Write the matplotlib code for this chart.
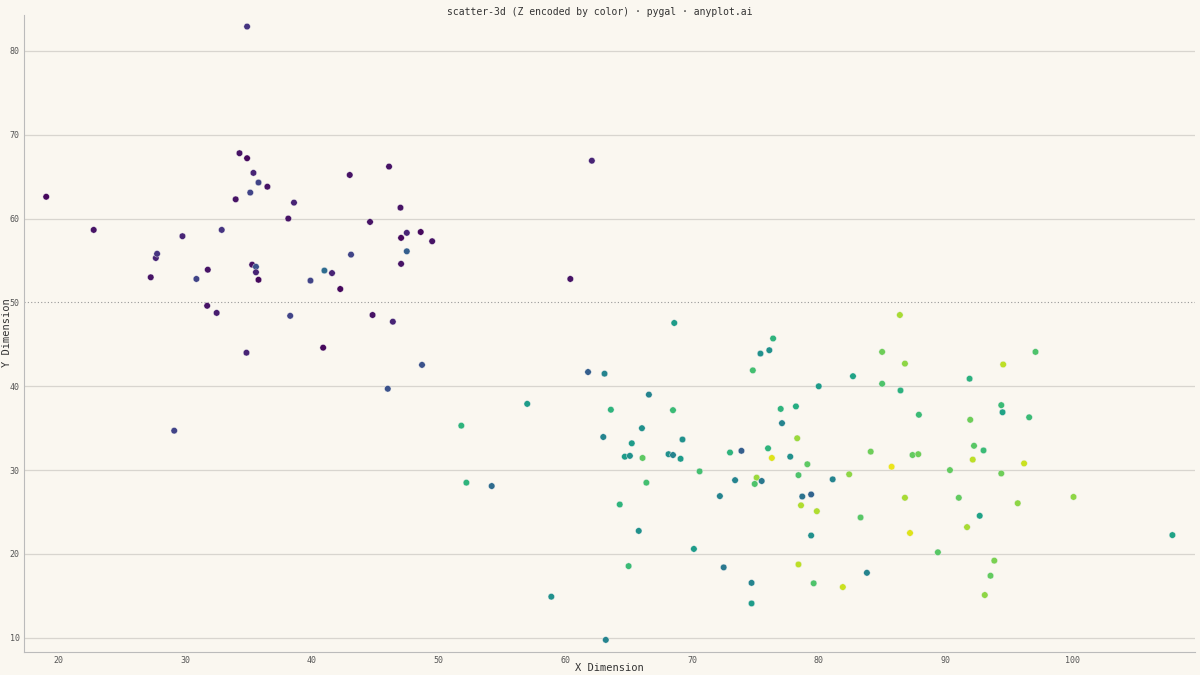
import matplotlib
matplotlib.use("Agg")
import matplotlib.pyplot as plt

x = [19.05,22.8,27.3,27.7,27.8,29.15,29.8,30.9,31.8,31.75,32.5,32.9,34.0,34.3,34.9,34.85,34.9,35.15,35.4,35.3,35.6,35.6,35.8,35.8,36.5,38.15,38.3,38.6,39.9,40.9,41.0,41.6,42.25,43.0,43.1,44.6,44.8,46.0,46.1,46.4,47.0,47.05,47.05,47.5,47.5,48.6,48.7,49.5,51.8,52.2,54.2,57.0,58.9,60.4,61.8,62.1,
     68.6,76.4,75.4,76.1,74.8,63.1,80.0,66.6,63.6,68.5,77.0,78.2,77.1,66.05,63.0,69.25,65.25,78.3,76.0,73.0,73.9,68.15,68.5,64.7,65.1,66.1,69.1,76.3,77.75,79.1,70.6,78.4,75.1,66.4,73.4,74.95,75.5,81.1,78.7,79.4,78.6,79.85,72.2,64.3,65.8,79.4,70.15,65.0,72.5,78.4,74.7,79.6,74.7,63.2,
     86.4,85.0,97.1,86.8,94.55,82.7,91.9,85.0,86.45,94.4,94.5,96.6,87.9,91.95,84.1,92.25,93.0,87.4,87.85,92.15,96.2,85.75,90.35,82.4,94.4,86.8,91.05,100.1,95.7,83.3,92.7,91.7,87.2,107.9,89.4,93.85,93.55,83.8,81.9,93.1]
y = [62.6,58.65,53.0,55.3,55.8,34.7,57.9,52.8,53.9,49.6,48.75,58.65,62.3,67.8,82.9,44.0,67.2,63.1,65.45,54.5,54.25,53.6,64.3,52.7,63.8,60.0,48.4,61.9,52.6,44.6,53.8,53.5,51.6,65.2,55.7,59.6,48.5,39.7,66.2,47.7,61.3,57.7,54.6,56.1,58.3,58.4,42.55,57.3,35.3,28.5,28.1,37.9,14.9,52.8,41.7,66.9,
     47.55,45.7,43.9,44.3,41.9,41.5,40.0,39.0,37.2,37.15,37.3,37.6,35.6,35.0,33.95,33.65,33.2,33.8,32.6,32.1,32.3,31.9,31.8,31.6,31.7,31.45,31.35,31.45,31.6,30.7,29.85,29.4,29.1,28.5,28.8,28.35,28.7,28.9,26.85,27.1,25.8,25.1,26.9,25.9,22.75,22.2,20.6,18.55,18.4,18.75,16.55,16.5,14.1,9.75,
     48.5,44.1,44.1,42.7,42.6,41.2,40.9,40.3,39.5,37.75,36.9,36.3,36.6,36.0,32.2,32.9,32.35,31.8,31.9,31.25,30.8,30.4,30.0,29.5,29.6,26.7,26.7,26.8,26.05,24.35,24.55,23.2,22.5,22.25,20.2,19.2,17.4,17.75,16.05,15.1]
z = [0.02,0.05,0.05,0.1,0.15,0.2,0.1,0.2,0.05,0.05,0.08,0.15,0.05,0.05,0.15,0.1,0.02,0.2,0.1,0.05,0.25,0.1,0.2,0.02,0.05,0.05,0.2,0.1,0.2,0.02,0.35,0.1,0.02,0.05,0.2,0.05,0.05,0.25,0.05,0.1,0.05,0.02,0.05,0.3,0.1,0.02,0.25,0.05,0.65,0.65,0.35,0.55,0.5,0.05,0.3,0.1,
     0.55,0.65,0.5,0.5,0.7,0.45,0.55,0.45,0.65,0.68,0.65,0.62,0.45,0.5,0.45,0.5,0.55,0.85,0.65,0.65,0.3,0.5,0.45,0.55,0.5,0.75,0.55,0.95,0.5,0.75,0.7,0.72,0.85,0.7,0.45,0.72,0.4,0.45,0.38,0.32,0.88,0.88,0.45,0.65,0.5,0.5,0.55,0.68,0.4,0.9,0.45,0.72,0.55,0.45,
     0.87,0.78,0.72,0.83,0.9,0.58,0.64,0.72,0.64,0.68,0.58,0.68,0.68,0.78,0.78,0.74,0.68,0.76,0.78,0.9,0.92,0.97,0.76,0.83,0.78,0.87,0.76,0.83,0.83,0.74,0.58,0.87,0.95,0.58,0.74,0.8,0.76,0.45,0.92,0.83]

bg = "#FAF7F0"
mono = "DejaVu Sans Mono"
fig = plt.figure(figsize=(12, 6.75), dpi=100, facecolor=bg)
ax = fig.add_axes([0.02, 0.034, 0.976, 0.944], facecolor=bg)
ax.set_axisbelow(True)
for v in [10, 20, 30, 40, 60, 70, 80]:
    ax.axhline(v, color="#d8d5cf", lw=0.9, zorder=0)
ax.axhline(50, color="#999999", lw=0.8, ls=(0, (1, 2)), zorder=0)
ax.scatter(x, y, c=z, cmap="viridis", vmin=0, vmax=1, s=22, edgecolors="#f0f0f0", linewidths=0.3, zorder=3)
ax.set_xlim(17.3, 109.7)
ax.set_ylim(8.3, 84.3)
ax.set_xticks([20, 30, 40, 50, 60, 70, 80, 90, 100])
ax.set_yticks([10, 20, 30, 40, 50, 60, 70, 80])
ax.tick_params(length=0, labelsize=6, colors="#555555", pad=3)
for s in ["top", "right"]:
    ax.spines[s].set_visible(False)
for s in ["left", "bottom"]:
    ax.spines[s].set_color("#bbbbbb")
for lab in ax.get_xticklabels() + ax.get_yticklabels():
    lab.set_family(mono)
fig.text(0.508, 0.011, "X Dimension", ha="center", va="center", family=mono, fontsize=7.5, color="#333333")
fig.text(0.006, 0.507, "Y Dimension", ha="center", va="center", rotation=90, family=mono, fontsize=7.5, color="#333333")
fig.text(0.5, 0.99, "scatter-3d (Z encoded by color) · pygal · anyplot.ai", ha="center", va="top",
         family=mono, fontsize=7, color="#333333")
fig.savefig("out.png", dpi=100, facecolor=bg)
